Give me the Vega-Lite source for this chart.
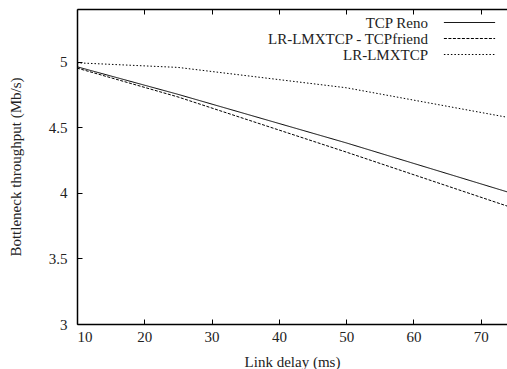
{
  "$schema": "https://vega.github.io/schema/vega-lite/v6.json",
  "width": 430,
  "height": 315,
  "autosize": {"type": "none"},
  "padding": {"left": 77, "top": 9, "right": 0, "bottom": 45},
  "background": "white",
  "config": {
    "view": {"stroke": null},
    "font": "Liberation Serif",
    "axis": {
      "domainColor": "#000",
      "tickColor": "#000",
      "labelColor": "#222",
      "titleColor": "#222",
      "labelFont": "Liberation Serif",
      "titleFont": "Liberation Serif",
      "labelFontSize": 15,
      "titleFontSize": 15,
      "titleFontWeight": "normal",
      "grid": false
    },
    "legend": {
      "labelFont": "Liberation Serif",
      "labelFontSize": 15,
      "labelColor": "#222"
    }
  },
  "data": {
    "values": [
      {"delay": 10, "throughput": 4.96, "series": "TCP Reno"},
      {"delay": 25, "throughput": 4.75, "series": "TCP Reno"},
      {"delay": 50, "throughput": 4.38, "series": "TCP Reno"},
      {"delay": 75, "throughput": 3.99, "series": "TCP Reno"},
      {"delay": 10, "throughput": 4.95, "series": "LR-LMXTCP - TCPfriend"},
      {"delay": 25, "throughput": 4.73, "series": "LR-LMXTCP - TCPfriend"},
      {"delay": 50, "throughput": 4.31, "series": "LR-LMXTCP - TCPfriend"},
      {"delay": 75, "throughput": 3.88, "series": "LR-LMXTCP - TCPfriend"},
      {"delay": 10, "throughput": 4.99, "series": "LR-LMXTCP"},
      {"delay": 25, "throughput": 4.955, "series": "LR-LMXTCP"},
      {"delay": 50, "throughput": 4.80, "series": "LR-LMXTCP"},
      {"delay": 75, "throughput": 4.565, "series": "LR-LMXTCP"}
    ]
  },
  "layer": [
    {
      "mark": {"type": "line", "clip": true, "strokeWidth": 1, "color": "#000"},
      "encoding": {
        "x": {
          "field": "delay", "type": "quantitative",
          "scale": {"domain": [10, 73.9], "nice": false, "zero": false},
          "axis": {"orient": "bottom", "title": "Link delay (ms)", "values": [10, 20, 30, 40, 50, 60, 70], "tickSize": -5, "labelPadding": 10, "titlePadding": 10, "domainWidth": 1.5}
        },
        "y": {
          "field": "throughput", "type": "quantitative",
          "scale": {"domain": [3, 5.4], "nice": false, "zero": false},
          "axis": {"title": "Bottleneck throughput (Mb/s)", "values": [3, 3.5, 4, 4.5, 5], "format": "~g", "tickSize": -5, "labelPadding": 15, "titleX": -54, "titleBaseline": "bottom", "domainWidth": 1.5}
        },
        "strokeDash": {
          "field": "series", "type": "nominal",
          "scale": {"domain": ["TCP Reno", "LR-LMXTCP - TCPfriend", "LR-LMXTCP"], "range": [[1, 0], [3, 1.5], [1.5, 2]]},
          "legend": {
            "title": null,
            "orient": "none",
            "legendX": 385,
            "legendY": 6,
            "padding": 0,
            "symbolType": "M-6.4,0H6.4",
            "symbolSize": 64,
            "symbolStrokeColor": "#000",
            "symbolFillColor": "transparent",
            "symbolStrokeWidth": 1,
            "labelAlign": "right",
            "labelOffset": -49,
            "labelLimit": 400,
            "rowPadding": 0
          }
        }
      }
    },
    {
      "mark": {"type": "line", "opacity": 0},
      "encoding": {
        "x": {
          "field": "delay", "type": "quantitative",
          "axis": {"orient": "top", "title": null, "labels": false, "values": [10, 20, 30, 40, 50, 60, 70], "tickSize": -5, "domainWidth": 1.5}
        },
        "y": {"field": "throughput", "type": "quantitative"},
        "detail": {"field": "series"}
      }
    }
  ],
  "resolve": {"axis": {"x": "independent"}}
}
